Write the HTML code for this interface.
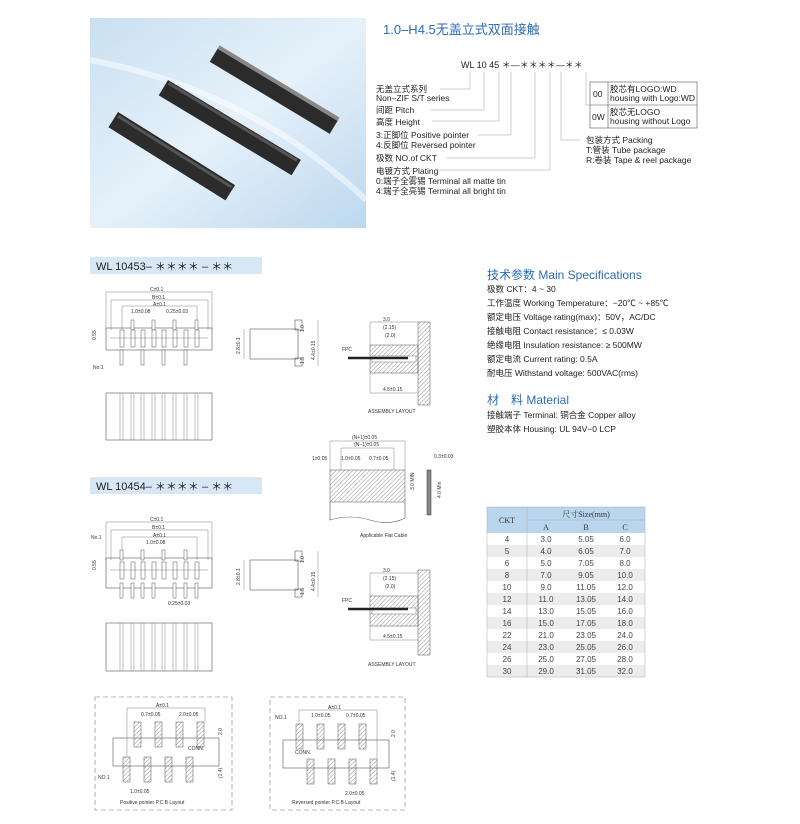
<!DOCTYPE html>
<html><head><meta charset="utf-8"><style>
html,body{margin:0;padding:0;background:#fff;}
svg{display:block;font-family:"Liberation Sans","Noto Sans CJK SC",sans-serif;}
.t{font-size:8.5px;fill:#222;}
.s{font-size:5px;fill:#333;}
.l{stroke:#555;stroke-width:0.6;fill:none;}
.d{stroke:#666;stroke-width:0.4;fill:none;}
</style></head><body>
<svg width="800" height="824" viewBox="0 0 800 824" xmlns="http://www.w3.org/2000/svg">
<defs>
<linearGradient id="bg" x1="0" y1="0" x2="1" y2="1">
<stop offset="0" stop-color="#c9e0f1"/><stop offset="0.5" stop-color="#e6f1fa"/><stop offset="1" stop-color="#bcd8ee"/></linearGradient>
<pattern id="h" width="3" height="3" patternUnits="userSpaceOnUse" patternTransform="rotate(45)"><line x1="0" y1="0" x2="0" y2="3" stroke="#777" stroke-width="0.8"/></pattern>
</defs>
<!-- photo -->
<rect x="90" y="18" width="276" height="210" fill="url(#bg)"/>
<path d="M90 60 Q250 90 366 200" stroke="#fff" stroke-width="6" fill="none" opacity="0.5"/>
<g transform="translate(218,48) rotate(31)"><rect x="0" y="0" width="140" height="16" fill="#2b2b2b"/><rect x="0" y="-3" width="140" height="4" fill="#888"/></g>
<g transform="translate(168,80) rotate(31)"><rect x="0" y="0" width="155" height="18" fill="#2a2a2a"/><rect x="2" y="1" width="150" height="3" fill="#555"/></g>
<g transform="translate(118,112) rotate(32)"><rect x="0" y="0" width="138" height="18" fill="#2c2c2c"/><rect x="2" y="2" width="134" height="3" fill="#555"/></g>

<!-- title -->
<text x="383" y="34" style="font-size:13px;fill:#2c6db3">1.0–H4.5无盖立式双面接触</text>
<text x="461" y="68" style="font-size:9px;fill:#222">WL 10 45 ＊—＊＊＊＊—＊＊</text>
<g class="t">
<text x="376" y="92">无盖立式系列</text><text x="376" y="101">Non–ZIF S/T series</text>
<text x="376" y="113">间距 Pitch</text>
<text x="376" y="125">高度 Height</text>
<text x="376" y="138">3:正脚位 Positive pointer</text>
<text x="376" y="148">4:反脚位 Reversed pointer</text>
<text x="376" y="161">极数 NO.of CKT</text>
<text x="376" y="174">电镀方式 Plating</text>
<text x="376" y="184">0:端子全雾锡 Terminal all matte tin</text>
<text x="376" y="194">4:端子全亮锡 Terminal all bright tin</text>
<text x="586" y="143">包装方式 Packing</text>
<text x="586" y="153">T:管装 Tube package</text>
<text x="586" y="163">R:卷装 Tape &amp; reel package</text>
<text x="593" y="97">00</text><text x="610" y="92">胶芯有LOGO:WD</text><text x="610" y="101">housing with Logo:WD</text>
<text x="592" y="120">0W</text><text x="610" y="115">胶芯无LOGO</text><text x="610" y="124">housing without Logo</text>
</g>
<rect x="590" y="82" width="107" height="46" class="l"/><line x1="590" y1="105" x2="697" y2="105" class="l"/><line x1="608" y1="82" x2="608" y2="128" class="l"/>
<g class="d" style="stroke:#888">
<polyline points="470,72 470,89 440,89"/><polyline points="484,72 484,110 430,110"/><polyline points="499,72 499,121 432,121"/><polyline points="511,72 511,135 478,135"/><polyline points="535,72 535,158 446,158"/><polyline points="550,72 550,170 436,170"/><polyline points="561,72 561,140 580,140"/><polyline points="586,72 586,105 590,105"/>
</g>

<!-- section headers -->
<rect x="90" y="257" width="172" height="17" fill="#d7e7f6"/>
<text x="96" y="270" style="font-size:11px;fill:#222">WL 10453– ＊＊＊＊ – ＊＊</text>
<rect x="90" y="477" width="172" height="17" fill="#d7e7f6"/>
<text x="96" y="490" style="font-size:11px;fill:#222">WL 10454– ＊＊＊＊ – ＊＊</text>

<!-- drawing set 1 -->
<g>
<polyline class="d" points="106,330 106,292 212,292 212,330"/><text x="150" y="291" class="s">C±0.1</text>
<polyline class="d" points="111,330 111,300 208,300 208,330"/><text x="152" y="299" class="s">B±0.1</text>
<polyline class="d" points="122,330 122,306 197,306 197,330"/><text x="153" y="306" class="s">A±0.1</text>
<text x="131" y="313" class="s">1.0±0.08</text><text x="166" y="313" class="s">0.25±0.03</text>
<rect x="106" y="328" width="106" height="22" class="l"/>
<g fill="#fff" stroke="#555" stroke-width="0.5">
<rect x="131" y="320" width="3" height="10"/><rect x="152" y="320" width="3" height="10"/><rect x="173" y="320" width="3" height="10"/><rect x="195" y="320" width="3" height="10"/>
<rect x="120" y="330" width="4" height="17"/><rect x="131" y="330" width="4" height="17"/><rect x="141" y="330" width="4" height="17"/><rect x="152" y="330" width="4" height="17"/><rect x="162" y="330" width="4" height="17"/><rect x="173" y="330" width="4" height="17"/><rect x="184" y="330" width="4" height="17"/><rect x="195" y="330" width="4" height="17"/>
<rect x="120" y="350" width="3" height="15"/><rect x="141" y="350" width="3" height="15"/><rect x="162" y="350" width="3" height="15"/><rect x="184" y="350" width="3" height="15"/>
</g>
<line x1="110" y1="338" x2="208" y2="338" class="d"/>
<text x="96" y="340" class="s" transform="rotate(-90 96 340)">0.55</text>
<text x="93" y="369" class="s">No.1</text>
<rect x="106" y="393" width="106" height="47" class="l"/>
<g class="d"><line x1="120" y1="393" x2="120" y2="440"/><line x1="131" y1="393" x2="131" y2="440"/><line x1="141" y1="393" x2="141" y2="440"/><line x1="152" y1="393" x2="152" y2="440"/><line x1="162" y1="393" x2="162" y2="440"/><line x1="173" y1="393" x2="173" y2="440"/><line x1="184" y1="393" x2="184" y2="440"/><line x1="195" y1="393" x2="195" y2="440"/><line x1="123" y1="393" x2="123" y2="440"/><line x1="134" y1="393" x2="134" y2="440"/><line x1="144" y1="393" x2="144" y2="440"/><line x1="155" y1="393" x2="155" y2="440"/><line x1="165" y1="393" x2="165" y2="440"/><line x1="176" y1="393" x2="176" y2="440"/><line x1="187" y1="393" x2="187" y2="440"/><line x1="198" y1="393" x2="198" y2="440"/></g>
<rect x="250" y="329" width="48" height="30" class="l"/><rect x="295" y="320" width="7" height="10" class="l"/><rect x="295" y="358" width="7" height="8" class="l"/>
<line x1="244" y1="329" x2="244" y2="359" class="d"/><text x="240" y="354" class="s" transform="rotate(-90 240 354)">2.8±0.1</text>
<line x1="318" y1="320" x2="318" y2="366" class="d"/><text x="315" y="360" class="s" transform="rotate(-90 315 360)">4.4±0.15</text>
<text x="304" y="332" class="s" transform="rotate(-90 304 332)">1.0</text><text x="304" y="364" class="s" transform="rotate(-90 304 364)">1.5</text>
<!-- assembly -->
<rect x="370" y="345" width="48" height="28" fill="url(#h)" stroke="#555" stroke-width="0.5"/>
<rect x="372" y="356" width="44" height="6" fill="#fff" stroke="#555" stroke-width="0.4"/>
<rect x="418" y="322" width="12" height="83" fill="url(#h)" stroke="#555" stroke-width="0.5"/>
<line x1="348" y1="358" x2="408" y2="358" stroke="#222" stroke-width="2.5"/>
<text x="342" y="351" class="s">FPC</text>
<polyline class="d" points="370,345 370,322 418,322"/><text x="383" y="321" class="s">3.0</text>
<text x="383" y="329" class="s">(2.15)</text><text x="385" y="337" class="s">(2.0)</text>
<polyline class="d" points="370,373 370,393 418,393"/><text x="383" y="391" class="s">4.5±0.15</text>
<text x="368" y="413" class="s">ASSEMBLY LAYOUT</text>
</g>

<!-- flat cable -->
<rect x="330" y="470" width="75" height="32" fill="url(#h)" stroke="#555" stroke-width="0.5"/>
<path d="M330 502 L330 520 Q350 514 370 520 Q390 526 405 518 L405 502" class="l"/>
<polyline class="d" points="330,470 330,441 405,441 405,470"/><text x="352" y="439" class="s">(N+1)±0.05</text>
<polyline class="d" points="341,470 341,448 394,448 394,470"/><text x="354" y="446" class="s">(N−1)±0.05</text>
<text x="312" y="460" class="s">1±0.05</text><text x="341" y="460" class="s">1.0±0.05</text><text x="369" y="460" class="s">0.7±0.05</text>
<text x="414" y="490" class="s" transform="rotate(-90 414 490)">3.0 MIN</text>
<rect x="427" y="470" width="4" height="45" fill="#888" stroke="#333" stroke-width="0.5"/>
<text x="434" y="458" class="s">0.3±0.03</text>
<text x="441" y="498" class="s" transform="rotate(-90 441 498)">4.0 Min</text>
<text x="360" y="537" class="s">Applicable Flat Cable</text>

<!-- drawing set 2 -->
<g>
<polyline class="d" points="106,560 106,522 212,522 212,560"/><text x="150" y="521" class="s">C±0.1</text>
<polyline class="d" points="111,560 111,530 208,530 208,560"/><text x="152" y="529" class="s">B±0.1</text>
<polyline class="d" points="122,560 122,537 197,537 197,560"/><text x="153" y="537" class="s">A±0.1</text>
<text x="146" y="544" class="s">1.0±0.08</text>
<text x="91" y="539" class="s">No.1</text>
<rect x="106" y="558" width="106" height="30" class="l"/>
<g fill="#fff" stroke="#555" stroke-width="0.5">
<rect x="120" y="550" width="3" height="10"/><rect x="141" y="550" width="3" height="10"/><rect x="162" y="550" width="3" height="10"/><rect x="184" y="550" width="3" height="10"/>
<rect x="120" y="562" width="4" height="17"/><rect x="131" y="562" width="4" height="17"/><rect x="141" y="562" width="4" height="17"/><rect x="152" y="562" width="4" height="17"/><rect x="162" y="562" width="4" height="17"/><rect x="173" y="562" width="4" height="17"/><rect x="184" y="562" width="4" height="17"/><rect x="195" y="562" width="4" height="17"/>
<rect x="120" y="583" width="3" height="15"/><rect x="131" y="583" width="3" height="15"/><rect x="141" y="583" width="3" height="15"/><rect x="152" y="583" width="3" height="15"/><rect x="173" y="583" width="3" height="15"/><rect x="184" y="583" width="3" height="15"/><rect x="195" y="583" width="3" height="15"/>
</g>
<line x1="110" y1="570" x2="208" y2="570" class="d"/>
<text x="96" y="570" class="s" transform="rotate(-90 96 570)">0.55</text>
<text x="168" y="605" class="s">0.25±0.03</text>
<rect x="106" y="623" width="106" height="48" class="l"/>
<g class="d"><line x1="120" y1="623" x2="120" y2="671"/><line x1="131" y1="623" x2="131" y2="671"/><line x1="141" y1="623" x2="141" y2="671"/><line x1="152" y1="623" x2="152" y2="671"/><line x1="162" y1="623" x2="162" y2="671"/><line x1="173" y1="623" x2="173" y2="671"/><line x1="184" y1="623" x2="184" y2="671"/><line x1="195" y1="623" x2="195" y2="671"/><line x1="123" y1="623" x2="123" y2="671"/><line x1="134" y1="623" x2="134" y2="671"/><line x1="144" y1="623" x2="144" y2="671"/><line x1="155" y1="623" x2="155" y2="671"/><line x1="165" y1="623" x2="165" y2="671"/><line x1="176" y1="623" x2="176" y2="671"/><line x1="187" y1="623" x2="187" y2="671"/><line x1="198" y1="623" x2="198" y2="671"/></g>
<rect x="250" y="560" width="48" height="30" class="l"/><rect x="295" y="551" width="7" height="10" class="l"/><rect x="295" y="589" width="7" height="8" class="l"/>
<line x1="244" y1="560" x2="244" y2="590" class="d"/><text x="240" y="585" class="s" transform="rotate(-90 240 585)">2.8±0.1</text>
<line x1="318" y1="551" x2="318" y2="597" class="d"/><text x="315" y="591" class="s" transform="rotate(-90 315 591)">4.4±0.15</text>
<text x="304" y="563" class="s" transform="rotate(-90 304 563)">1.0</text><text x="304" y="595" class="s" transform="rotate(-90 304 595)">1.5</text>
<rect x="370" y="596" width="48" height="30" fill="url(#h)" stroke="#555" stroke-width="0.5"/>
<rect x="372" y="608" width="44" height="6" fill="#fff" stroke="#555" stroke-width="0.4"/>
<rect x="418" y="570" width="12" height="85" fill="url(#h)" stroke="#555" stroke-width="0.5"/>
<line x1="348" y1="609" x2="408" y2="609" stroke="#222" stroke-width="2.5"/>
<text x="342" y="602" class="s">FPC</text>
<polyline class="d" points="370,596 370,573 418,573"/><text x="383" y="572" class="s">3.0</text>
<text x="383" y="580" class="s">(2.15)</text><text x="385" y="588" class="s">(2.0)</text>
<polyline class="d" points="370,626 370,640 418,640"/><text x="383" y="638" class="s">4.5±0.15</text>
<text x="368" y="666" class="s">ASSEMBLY LAYOUT</text>
</g>

<!-- PCB layouts -->
<rect x="95" y="697" width="137" height="113" fill="none" stroke="#777" stroke-width="0.6" stroke-dasharray="5,3"/>
<rect x="113" y="738" width="106" height="28" class="l"/>
<g fill="url(#h)" stroke="#555" stroke-width="0.5">
<rect x="134" y="722" width="7" height="25"/><rect x="155" y="722" width="7" height="25"/><rect x="176" y="722" width="7" height="25"/><rect x="197" y="722" width="7" height="25"/>
<rect x="123" y="757" width="7" height="25"/><rect x="144" y="757" width="7" height="25"/><rect x="165" y="757" width="7" height="25"/><rect x="186" y="757" width="7" height="25"/>
</g>
<polyline class="d" points="127,757 127,708 205,708 205,722"/><text x="156" y="707" class="s">A±0.1</text>
<text x="141" y="716" class="s">0.7±0.05</text><text x="179" y="716" class="s">2.0±0.05</text>
<text x="188" y="750" class="s">CONN.</text><text x="98" y="779" class="s">NO.1</text>
<text x="130" y="793" class="s">1.0±0.05</text>
<text x="222" y="735" class="s" transform="rotate(-90 222 735)">2.0</text><text x="222" y="778" class="s" transform="rotate(-90 222 778)">(1.4)</text>
<text x="120" y="804" class="s">Positive pointer P.C.B Layout</text>

<rect x="270" y="697" width="135" height="113" fill="none" stroke="#777" stroke-width="0.6" stroke-dasharray="5,3"/>
<rect x="283" y="740" width="106" height="28" class="l"/>
<g fill="url(#h)" stroke="#555" stroke-width="0.5">
<rect x="296" y="724" width="7" height="25"/><rect x="317" y="724" width="7" height="25"/><rect x="338" y="724" width="7" height="25"/><rect x="359" y="724" width="7" height="25"/>
<rect x="307" y="759" width="7" height="25"/><rect x="328" y="759" width="7" height="25"/><rect x="349" y="759" width="7" height="25"/><rect x="370" y="759" width="7" height="25"/>
</g>
<polyline class="d" points="299,724 299,710 377,710 377,759"/><text x="328" y="709" class="s">A±0.1</text>
<text x="275" y="719" class="s">NO.1</text><text x="311" y="717" class="s">1.0±0.05</text><text x="346" y="717" class="s">0.7±0.05</text>
<text x="295" y="754" class="s">CONN.</text>
<text x="345" y="795" class="s">2.0±0.05</text>
<text x="395" y="737" class="s" transform="rotate(-90 395 737)">2.0</text><text x="395" y="781" class="s" transform="rotate(-90 395 781)">(1.4)</text>
<text x="292" y="804" class="s">Reversed pointer P.C.B Layout</text>

<!-- specs -->
<text x="487" y="279" style="font-size:12px;fill:#2c6db3">技术参数 Main Specifications</text>
<g class="t">
<text x="487" y="292">极数 CKT：4 ~ 30</text>
<text x="487" y="306">工作温度 Working Temperature：−20℃ ~ +85℃</text>
<text x="487" y="320">额定电压 Voltage rating(max)：50V，AC/DC</text>
<text x="487" y="334">接触电阻 Contact resistance：≤ 0.03W</text>
<text x="487" y="348">绝缘电阻 Insulation resistance: ≥ 500MW</text>
<text x="487" y="362">额定电流 Current rating: 0.5A</text>
<text x="487" y="376">耐电压 Withstand voltage: 500VAC(rms)</text>
</g>
<text x="487" y="404" style="font-size:12px;fill:#2c6db3">材　料 Material</text>
<g class="t"><text x="487" y="418">接触端子 Terminal: 铜合金 Copper alloy</text><text x="487" y="432">塑胶本体 Housing: UL 94V−0 LCP</text></g>

<!-- table -->
<rect x="487" y="507" width="158" height="26" fill="#b9d6ee"/>
<g fill="#ececec"><rect x="487" y="545" width="158" height="12"/><rect x="487" y="569" width="158" height="12"/><rect x="487" y="593" width="158" height="12"/><rect x="487" y="617" width="158" height="12"/><rect x="487" y="641" width="158" height="12"/><rect x="487" y="665" width="158" height="12"/></g>
<g stroke="#aaa" stroke-width="0.5" fill="none"><rect x="487" y="507" width="158" height="170"/><line x1="527" y1="507" x2="527" y2="677"/><line x1="527" y1="520" x2="645" y2="520"/></g>
<g style="font-size:8px;fill:#333;font-family:'Liberation Serif','Noto Serif CJK SC',serif" text-anchor="middle">
<text x="507" y="523">CKT</text><text x="586" y="517">尺寸Size(mm)</text><text x="546" y="530">A</text><text x="586" y="530">B</text><text x="625" y="530">C</text>
</g>
<g style="font-size:8px;fill:#444" text-anchor="middle">
<text x="507" y="542">4</text><text x="546" y="542">3.0</text><text x="586" y="542">5.05</text><text x="625" y="542">6.0</text>
<text x="507" y="554">5</text><text x="546" y="554">4.0</text><text x="586" y="554">6.05</text><text x="625" y="554">7.0</text>
<text x="507" y="566">6</text><text x="546" y="566">5.0</text><text x="586" y="566">7.05</text><text x="625" y="566">8.0</text>
<text x="507" y="578">8</text><text x="546" y="578">7.0</text><text x="586" y="578">9.05</text><text x="625" y="578">10.0</text>
<text x="507" y="590">10</text><text x="546" y="590">9.0</text><text x="586" y="590">11.05</text><text x="625" y="590">12.0</text>
<text x="507" y="602">12</text><text x="546" y="602">11.0</text><text x="586" y="602">13.05</text><text x="625" y="602">14.0</text>
<text x="507" y="614">14</text><text x="546" y="614">13.0</text><text x="586" y="614">15.05</text><text x="625" y="614">16.0</text>
<text x="507" y="626">16</text><text x="546" y="626">15.0</text><text x="586" y="626">17.05</text><text x="625" y="626">18.0</text>
<text x="507" y="638">22</text><text x="546" y="638">21.0</text><text x="586" y="638">23.05</text><text x="625" y="638">24.0</text>
<text x="507" y="650">24</text><text x="546" y="650">23.0</text><text x="586" y="650">25.05</text><text x="625" y="650">26.0</text>
<text x="507" y="662">26</text><text x="546" y="662">25.0</text><text x="586" y="662">27.05</text><text x="625" y="662">28.0</text>
<text x="507" y="674">30</text><text x="546" y="674">29.0</text><text x="586" y="674">31.05</text><text x="625" y="674">32.0</text>
</g>
</svg>
</body></html>
